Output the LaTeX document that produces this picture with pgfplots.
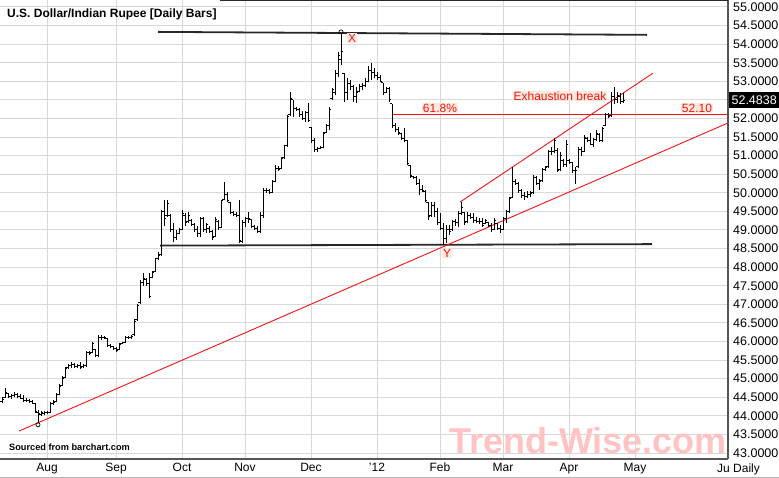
\documentclass[border=0pt]{standalone}
\usepackage{pgfplots}
\pgfplotsset{compat=1.18}
\usepackage{pgfplotstable}
\usepackage{fontspec}
\setmainfont{Liberation Sans}
\definecolor{gridc}{RGB}{216,216,216}
\definecolor{axc}{RGB}{85,85,85}
\definecolor{peach}{RGB}{253,234,220}
\definecolor{wm}{RGB}{255,195,195}
\definecolor{tline}{RGB}{40,40,40}
\definecolor{myred}{RGB}{240,20,20}
\pgfdeclareplotmark{otick}{\pgfpathmoveto{\pgfqpoint{-2pt}{0pt}}\pgfpathlineto{\pgfqpoint{0pt}{0pt}}\pgfusepathqstroke}
\pgfdeclareplotmark{ctick}{\pgfpathmoveto{\pgfqpoint{0pt}{0pt}}\pgfpathlineto{\pgfqpoint{2pt}{0pt}}\pgfusepathqstroke}
\pgfplotstableread{
x o h l c
2 44.38 44.50 44.35 44.45
5 44.50 44.75 44.48 44.62
8 44.60 44.62 44.48 44.52
11 44.52 44.60 44.45 44.55
14 44.55 44.64 44.50 44.58
17 44.58 44.62 44.48 44.52
20 44.52 44.58 44.44 44.48
23 44.48 44.55 44.38 44.42
26 44.42 44.48 44.36 44.40
29 44.40 44.44 44.34 44.38
32 44.38 44.42 44.32 44.34
35 44.33 44.35 44.08 44.12
38 44.10 44.15 43.80 44.05
41 44.04 44.12 44.00 44.08
44 44.06 44.14 44.02 44.10
47 44.10 44.14 44.04 44.08
50 44.10 44.36 44.08 44.32
53 44.32 44.42 44.28 44.36
56 44.38 44.62 44.36 44.58
59 44.58 44.85 44.56 44.80
62 44.82 45.06 44.80 45.00
65 45.04 45.32 45.02 45.28
68 45.30 45.40 45.26 45.36
71 45.36 45.44 45.30 45.38
74 45.38 45.42 45.28 45.34
77 45.32 45.40 45.28 45.36
80 45.36 45.44 45.26 45.30
83 45.32 45.40 45.30 45.36
86 45.36 45.74 45.32 45.70
89 45.70 45.74 45.64 45.68
92 45.70 46.00 45.68 45.95
95 45.78 45.80 45.58 45.62
98 45.62 46.17 45.58 46.10
101 46.10 46.18 46.04 46.12
104 46.12 46.16 46.06 46.10
107 46.08 46.10 45.86 45.90
110 45.90 45.92 45.82 45.86
113 45.86 45.88 45.78 45.80
116 45.80 45.84 45.72 45.76
119 45.78 45.96 45.76 45.92
122 45.94 45.98 45.92 45.96
125 45.98 46.14 45.96 46.12
128 46.12 46.16 46.08 46.12
131 46.10 46.18 46.08 46.14
134 46.18 46.60 46.16 46.55
137 46.58 47.00 46.56 46.96
140 47.05 47.66 47.02 47.60
143 47.60 47.85 47.50 47.70
146 47.68 47.70 47.50 47.55
149 47.55 47.84 47.16 47.22
152 47.72 47.90 47.70 47.86
155 47.88 48.26 47.86 48.22
158 48.24 48.40 48.20 48.32
161 48.34 49.55 48.30 49.50
164 49.50 49.82 49.12 49.30
167 49.40 49.80 49.36 49.72
170 49.38 49.42 48.95 49.00
173 49.00 49.20 48.68 48.80
176 48.80 49.00 48.74 48.90
179 48.90 49.05 48.88 49.00
182 49.02 49.55 49.00 49.45
185 49.40 49.45 49.10 49.20
188 49.22 49.48 49.20 49.40
191 49.25 49.30 49.10 49.15
194 49.15 49.20 48.95 49.00
197 49.00 49.10 48.82 48.90
200 48.90 49.36 48.82 49.30
203 49.30 49.34 48.94 49.00
206 49.00 49.20 48.92 49.15
209 49.05 49.10 48.92 48.96
212 48.96 49.00 48.72 48.80
215 48.82 49.34 48.80 49.28
218 49.24 49.28 49.00 49.08
221 49.08 49.82 49.06 49.80
224 49.82 50.30 49.80 49.95
227 49.95 50.02 49.74 49.80
230 49.74 49.76 49.44 49.48
233 49.46 49.50 49.38 49.42
236 49.42 49.48 49.34 49.40
239 49.40 49.80 48.66 48.72
242 48.70 49.26 48.64 49.20
245 49.20 49.36 49.08 49.30
248 49.30 49.48 49.20 49.30
251 49.28 49.30 49.06 49.10
254 49.10 49.14 49.00 49.04
257 49.04 49.10 48.92 48.96
260 48.96 49.48 48.92 49.40
263 49.40 50.12 49.32 50.05
266 50.05 50.12 50.00 50.06
269 50.06 50.10 49.96 50.02
272 50.02 50.35 50.00 50.30
275 50.30 50.74 50.28 50.66
278 50.66 50.72 50.60 50.64
281 50.66 50.96 50.64 50.92
284 50.94 51.30 50.92 51.26
287 51.26 52.10 51.22 52.05
290 52.10 52.70 52.08 52.55
293 52.50 52.50 52.04 52.28
296 52.28 52.30 52.20 52.24
299 52.24 52.28 52.04 52.10
302 52.10 52.20 51.95 52.00
305 52.00 52.20 51.90 52.15
308 52.15 52.42 51.90 51.95
311 51.76 51.78 51.34 51.40
314 51.40 51.47 51.10 51.16
317 51.16 51.23 51.10 51.20
320 51.20 51.25 51.18 51.22
323 51.22 51.64 51.20 51.60
326 51.62 51.86 51.60 51.80
329 51.80 52.30 51.70 52.25
332 52.55 52.82 52.50 52.78
335 52.70 53.30 52.62 53.20
338 53.20 53.80 53.12 53.70
341 53.60 54.30 53.44 53.80
344 53.20 53.22 52.44 52.70
347 52.70 53.10 52.50 52.95
350 52.95 53.04 52.76 52.85
353 52.85 52.90 52.44 52.60
356 52.60 52.85 52.42 52.70
359 52.72 52.92 52.70 52.85
362 52.85 52.96 52.76 52.90
365 52.90 53.10 52.84 53.00
368 53.00 53.40 52.98 53.30
371 53.30 53.48 53.04 53.25
374 53.25 53.36 53.08 53.15
377 53.15 53.26 53.04 53.10
380 53.10 53.16 52.98 53.00
383 52.98 52.96 52.64 52.70
386 52.70 52.85 52.68 52.80
389 52.80 52.85 52.44 52.50
392 52.40 52.40 51.74 51.80
395 51.80 51.88 51.64 51.70
398 51.70 51.78 51.56 51.62
401 51.60 51.62 51.42 51.46
404 51.46 51.74 51.38 51.42
407 51.40 51.42 50.76 50.80
410 50.74 50.76 50.40 50.46
413 50.44 50.46 50.36 50.40
416 50.40 50.44 50.22 50.26
419 50.26 50.36 49.94 50.10
422 50.10 50.20 50.02 50.06
425 50.04 50.08 49.76 49.80
428 49.74 49.76 49.28 49.36
431 49.38 49.75 49.36 49.66
434 49.66 49.74 49.34 49.50
437 49.50 49.60 49.14 49.20
440 49.20 49.46 49.00 49.05
443 49.05 49.20 48.60 48.76
446 48.76 49.14 48.66 49.00
449 49.00 49.14 48.86 48.96
452 49.00 49.28 48.98 49.22
455 49.22 49.30 49.10 49.20
458 49.20 49.50 49.08 49.45
461 49.45 49.76 49.40 49.60
464 49.46 49.48 49.14 49.20
467 49.22 49.48 49.20 49.40
470 49.40 49.46 49.30 49.34
473 49.34 49.46 49.20 49.26
476 49.26 49.34 49.18 49.24
479 49.24 49.32 49.16 49.22
482 49.22 49.32 49.08 49.12
485 49.18 49.30 49.16 49.26
488 49.20 49.22 49.08 49.12
491 49.12 49.20 48.94 49.00
494 49.02 49.32 49.00 49.26
497 49.18 49.20 49.00 49.04
500 49.04 49.14 48.92 49.00
503 49.02 49.35 49.00 49.30
506 49.30 49.55 49.20 49.50
509 49.50 49.90 49.46 49.86
512 49.88 50.70 49.86 50.30
515 50.30 50.36 50.20 50.24
518 50.24 50.30 50.00 50.06
521 50.06 50.10 49.86 49.92
524 49.92 50.02 49.82 49.90
527 49.90 50.04 49.86 49.96
530 49.96 50.04 49.88 49.98
533 50.00 50.48 49.98 50.40
536 50.40 50.44 50.20 50.26
539 50.26 50.36 50.08 50.30
542 50.32 50.68 50.30 50.62
545 50.62 50.72 50.60 50.68
548 50.70 51.16 50.68 51.10
551 51.10 51.22 51.02 51.10
554 51.10 51.48 51.06 51.40
557 51.15 51.20 50.56 50.60
560 50.62 51.10 50.60 51.00
563 50.88 50.90 50.70 50.76
566 50.76 51.42 50.70 51.30
569 50.88 50.90 50.78 50.82
572 50.82 50.84 50.52 50.60
575 50.60 50.70 50.24 50.60
578 50.70 51.22 50.66 51.16
581 51.16 51.24 51.00 51.10
584 51.12 51.56 51.10 51.48
587 51.46 51.50 51.36 51.40
590 51.40 51.62 51.28 51.30
593 51.30 51.48 51.24 51.44
596 51.44 51.70 51.40 51.60
599 51.58 51.62 51.36 51.40
602 51.40 51.78 51.36 51.72
605 51.82 52.16 51.80 52.10
608 52.10 52.16 52.00 52.06
611 52.08 52.70 52.04 52.60
614 52.60 52.86 52.40 52.50
617 52.50 52.70 52.42 52.62
620 52.60 52.68 52.40 52.46
623 52.46 52.68 52.42 52.4838
}\ohlc
\begin{document}
\begin{tikzpicture}
\begin{axis}[
  at={(0pt,0pt)}, anchor=south west,
  scale only axis, width=728pt, height=459pt,
  xmin=0, xmax=728, ymin=42.839, ymax=55.188,
  clip=false,
  axis x line*=bottom, axis y line*=right,
  axis line style={axc, line width=1.2pt},
  xtick={47,116,182,245,311,377,440,503,569,635},
  xticklabels={Aug,Sep,Oct,Nov,Dec,'12,Feb,Mar,Apr,May},
  ytick={43,43.5,44,44.5,45,45.5,46,46.5,47,47.5,48,48.5,49,49.5,50,50.5,51,51.5,52,52.5,53,53.5,54,54.5,55},
  yticklabels={43.0000,43.5000,44.0000,44.5000,45.0000,45.5000,46.0000,46.5000,47.0000,47.5000,48.0000,48.5000,49.0000,49.5000,50.0000,50.5000,51.0000,51.5000,52.0000,{},53.0000,53.5000,54.0000,54.5000,55.0000},
  major tick length=0pt,
  xmajorgrids, ymajorgrids,
  grid style={gridc, line width=1pt},
  xticklabel style={font=\fontsize{12}{14}\selectfont, anchor=base, yshift=-13pt, inner sep=0pt},
  yticklabel style={font=\fontsize{12.5}{14}\selectfont, anchor=west, xshift=5pt, inner sep=0pt},
]
% watermark
\node[anchor=base, inner sep=0pt, text=wm, font=\bfseries\fontsize{36}{40}\selectfont] at (axis cs:588,43.0) {Trend-Wise.com};
% top frame segment
\draw[tline, line width=2pt] (axis cs:220,55.188) -- (axis cs:728,55.188);
% support / resistance lines
\addplot[tline, line width=1.8pt] coordinates {(158,54.33) (647,54.25)};
\addplot[tline, line width=1.8pt] coordinates {(160,48.58) (652,48.62)};
% red trend lines
\addplot[myred, line width=0.9pt] coordinates {(19,43.59) (728,51.88)};
\addplot[myred, line width=0.9pt] coordinates {(460,49.75) (653,53.22)};
\addplot[myred, line width=1.2pt] coordinates {(393,52.10) (728,52.10)};
% OHLC bars
\addplot[draw=none, mark=none, error bars/.cd, y dir=plus, y explicit, error mark=none,
  error bar style={draw=black, solid, line width=1pt}]
  table[x=x, y=l, y error expr=\thisrow{h}-\thisrow{l}] {\ohlc};
\addplot[only marks, mark=otick, mark options={black, line width=1pt}] table[x=x, y=o] {\ohlc};
\addplot[only marks, mark=ctick, mark options={black, line width=1pt}] table[x=x, y=c] {\ohlc};
% pivot circles
\addplot[only marks, mark=o, mark size=2pt, mark options={black, line width=0.7pt, fill=white}] coordinates {(341,54.33) (38,43.76)};
% annotations
\node[anchor=west, inner sep=0pt, font=\bfseries\fontsize{12}{14}\selectfont] at (axis cs:7,54.81) {U.S. Dollar/Indian Rupee [Daily Bars]};
\node[anchor=base west, inner sep=0pt, font=\bfseries\fontsize{9.2}{11}\selectfont] at (axis cs:9,43.062) {Sourced from barchart.com};
\node[fill=peach, text=myred, inner sep=1pt, font=\fontsize{12}{14}\selectfont] at (axis cs:560,52.605) {Exhaustion break};
\node[fill=peach, text=myred, inner sep=1pt, font=\fontsize{12}{14}\selectfont] at (axis cs:440,52.283) {61.8\%};
\node[fill=peach, text=myred, inner sep=1pt, font=\fontsize{12}{14}\selectfont] at (axis cs:697,52.283) {52.10};
\node[fill=peach, text=myred, inner sep=1pt, font=\fontsize{12}{14}\selectfont] at (axis cs:352,54.166) {X};
\node[fill=peach, text=myred, inner sep=1pt, font=\fontsize{12}{14}\selectfont] at (axis cs:447,48.38) {Y};
\node[anchor=west, fill=black, text=white, inner xsep=0pt, minimum width=50pt, minimum height=15pt, font=\fontsize{12.5}{14}\selectfont] at (axis cs:729,52.50) {52.4838};
\node[anchor=base west, inner sep=0pt, font=\fontsize{12}{14}\selectfont] at (axis cs:717,42.489) {Ju Daily};
\end{axis}
\draw[gray!60, line width=1pt] (0pt,-18.5pt) -- (779pt,-18.5pt);
\pgfresetboundingbox
\path[use as bounding box] (0pt,-19pt) rectangle (779pt,459pt);
\end{tikzpicture}
\end{document}
